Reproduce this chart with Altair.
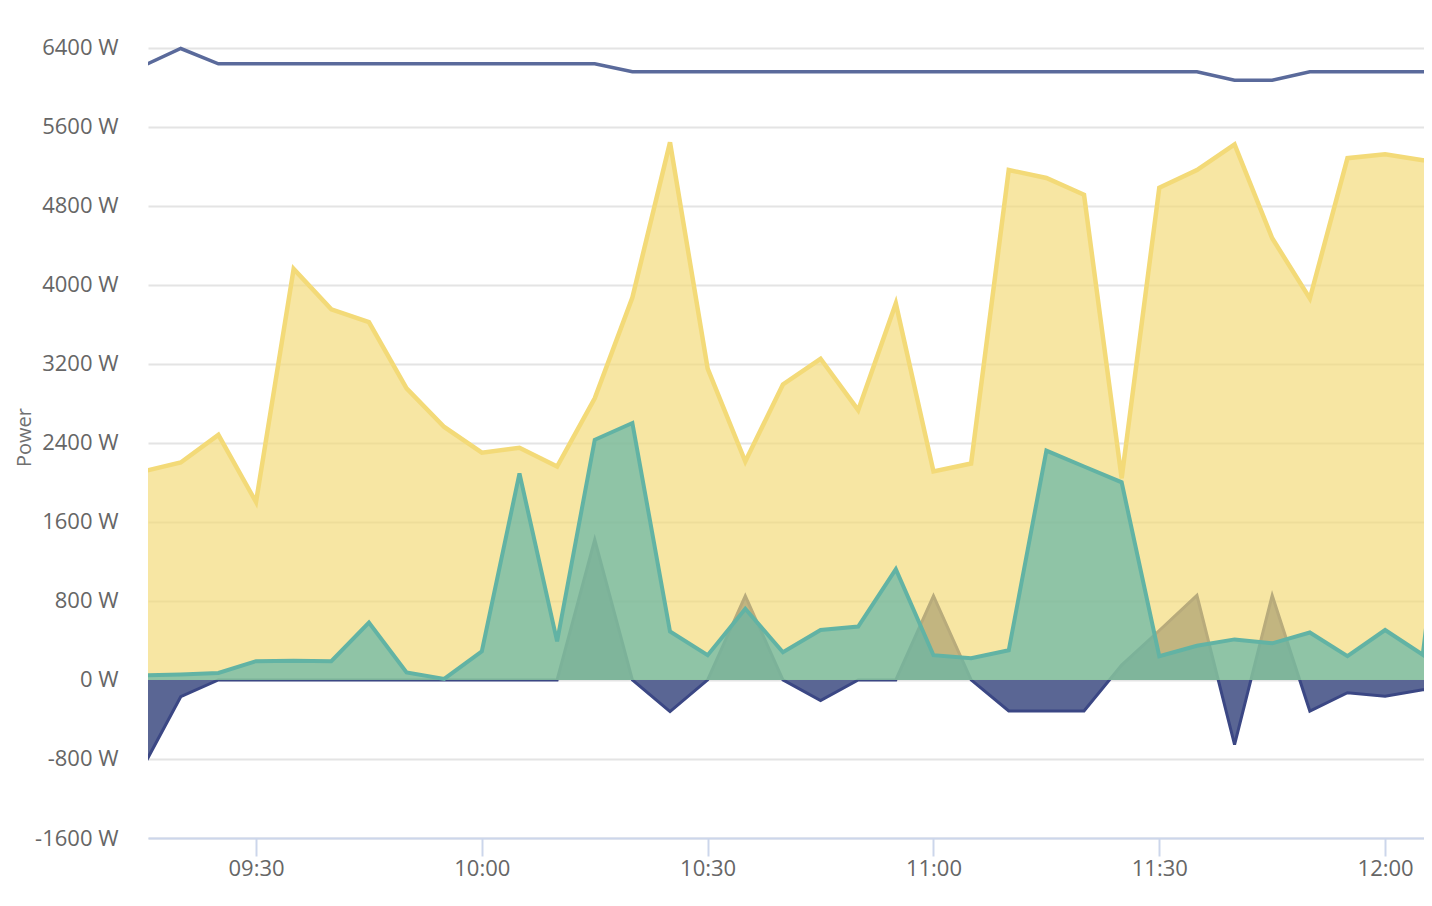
import altair as alt
import pandas as pd

# ---- data (5-minute samples) ----
times = ["09:15", "09:20", "09:25", "09:30", "09:35", "09:40", "09:45", "09:50", "09:55",
         "10:00", "10:05", "10:10", "10:15", "10:20", "10:25", "10:30", "10:35", "10:40",
         "10:45", "10:50", "10:55", "11:00", "11:05", "11:10", "11:15", "11:20", "11:25",
         "11:30", "11:35", "11:40", "11:45", "11:50", "11:55", "12:00", "12:05", "12:10"]

solar_w = [2110, 2200, 2480, 1800, 4160, 3750, 3620, 2950, 2560,
           2300, 2350, 2160, 2850, 3870, 5440, 3150, 2210, 2990,
           3250, 2730, 3810, 2110, 2190, 5160, 5080, 4910, 2040,
           4980, 5160, 5420, 4470, 3860, 5280, 5320, 5260, 5250]

battery_w = [45, 55, 70, 190, 195, 190, 580, 75, 10,
             290, 2090, 390, 2430, 2600, 490, 250, 720, 280,
             505, 540, 1120, 250, 220, 300, 2320, 2160, 2000,
             240, 345, 410, 370, 480, 240, 505, 255, 3380]

grid_w = [-880, -170, 0, 0, 0, 0, 0, 0, 0,
          0, 0, 0, 1420, 0, -320, 0, 850, 0,
          -210, 0, 0, 850, 0, -315, -315, -315, 150,
          500, 855, -655, 855, -315, -130, -165, -100, -95]

limit_w = [6215, 6390, 6235, 6235, 6235, 6235, 6235, 6235, 6235,
           6235, 6235, 6235, 6235, 6155, 6155, 6155, 6155, 6155,
           6155, 6155, 6155, 6155, 6155, 6155, 6155, 6155, 6155,
           6155, 6155, 6070, 6070, 6155, 6155, 6155, 6155, 6155]

y_ticks = [-1600, -800, 0, 800, 1600, 2400, 3200, 4000, 4800, 5600, 6400]
x_ticks = ["09:30", "10:00", "10:30", "11:00", "11:30", "12:00"]
x_start = "09:15:39"
x_end = "12:05:10"
y_min, y_max = -1600, 6800
DAY = "2024-06-15"


def dt(hms):
    parts = [int(p) for p in hms.split(":")]
    sec = parts[2] if len(parts) > 2 else 0
    return alt.DateTime(year=2024, month=6, date=15, hours=parts[0], minutes=parts[1], seconds=sec)


df = pd.DataFrame({
    "time": [f"{DAY}T{t}:00" for t in times],
    "solar": solar_w,
    "battery": battery_w,
    "grid": grid_w,
    "limit": limit_w,
})

FONT = "Open Sans"
LABEL_COLOR = "#666666"

x_enc = alt.X(
    "time:T",
    title=None,
    scale=alt.Scale(domain=[dt(x_start), dt(x_end)]),
    axis=alt.Axis(
        values=[dt(t) for t in x_ticks],
        format="%H:%M",
        grid=False,
        domainColor="#ccd6eb",
        domainWidth=2,
        tickColor="#ccd6eb",
        tickWidth=2,
        tickSize=18,
        labelPadding=2,
        labelFontSize=22,
        labelColor=LABEL_COLOR,
        labelFont=FONT,
        labelFlush=False,
        zindex=1,
    ),
)


def y_enc(col):
    return alt.Y(
        f"{col}:Q",
        scale=alt.Scale(domain=[y_min, y_max], nice=False, zero=False),
        axis=alt.Axis(
            values=y_ticks,
            labelExpr="datum.value + ' W'",
            title="Power",
            titleFont=FONT,
            titleFontSize=20,
            titleFontWeight="normal",
            titleColor="#707070",
            titleAngle=270,
            titleX=-118,
            titleY=429,
            titleAlign="center",
            titleBaseline="alphabetic",
            domain=False,
            ticks=False,
            grid=True,
            gridColor="#e4e4e4",
            gridWidth=2,
            labelPadding=30,
            labelFontSize=22,
            labelColor=LABEL_COLOR,
            labelFont=FONT,
        ),
    )


base = alt.Chart(df).encode(x=x_enc)

grid_area = base.mark_area(color="#5a6694", fillOpacity=1, clip=True).encode(
    y=y_enc("grid"), y2=alt.datum(0))
grid_line = base.mark_line(color="#3b4784", strokeWidth=3, clip=True).encode(y=y_enc("grid"))

solar_area = base.mark_area(color="#f3da78", fillOpacity=0.68, clip=True).encode(
    y=y_enc("solar"), y2=alt.datum(0))
solar_line = base.mark_line(color="#f3da78", strokeWidth=4.5, clip=True).encode(y=y_enc("solar"))

battery_area = base.mark_area(color="#62b5a6", fillOpacity=0.7, clip=True).encode(
    y=y_enc("battery"), y2=alt.datum(0))
battery_line = base.mark_line(color="#62b3a4", strokeWidth=4, clip=True).encode(y=y_enc("battery"))

limit_line = base.mark_line(color="#5a6a9b", strokeWidth=3.5, clip=True).encode(y=y_enc("limit"))

chart = alt.layer(
    grid_area, grid_line, solar_area, solar_line, battery_area, battery_line, limit_line
).properties(
    width=1276,
    height=830,
    padding={"left": 140, "top": 0, "right": 0, "bottom": 44},
    autosize=alt.AutoSizeParams(type="none"),
).configure_view(stroke=None)

chart.save("out.html", embed_options={"renderer": "svg", "actions": False})
